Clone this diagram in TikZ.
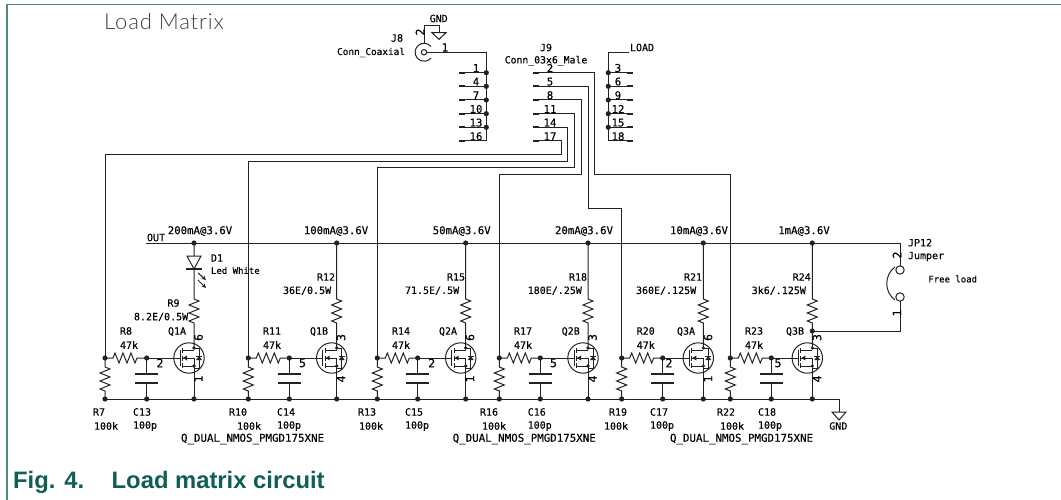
\documentclass[tikz,border=0pt]{standalone}
\usepackage{fontspec}
\setsansfont{Liberation Sans}
\newfontfamily\titlefont[LetterSpace=4]{Lato Light}
\newfontfamily\kfont[FakeBold=0.25]{DejaVu Sans Mono}
\usetikzlibrary{calc}
\definecolor{wire}{HTML}{222222}
\definecolor{figgreen}{HTML}{0F5F52}
\definecolor{framegreen}{HTML}{4E8A80}
\newcounter{lblc}
\newcommand\lbl[4][]{\stepcounter{lblc}\node[lab,#1] (t\thelblc) at (#2,#3) {#4};}
\newcommand\lw[3]{\lbl[anchor=west]{#1}{#2}{#3}}
\newcommand\zigv{-- ++(5,2) -- ++(-10,4) -- ++(10,4) -- ++(-10,4) -- ++(10,4) -- ++(-10,4) -- ++(5,2)}
\newcommand\zigh{-- ++(2,-5) -- ++(4,10) -- ++(4,-10) -- ++(4,10) -- ++(4,-10) -- ++(4,10) -- ++(2,-5)}
\newcommand\jdot[1]{\fill[wire] (#1) circle[radius=2.6pt];}
% #1 name, #2 junction x, #3 cap x, #4 drain x
\newcommand\chan[4]{%
  \coordinate (#1j) at (#2,358); \coordinate (#1jb) at (#2,399);
  \coordinate (#1c) at (#3,358); \coordinate (#1cb) at (#3,399);
  \coordinate (#1d) at (#4,348); \coordinate (#1db) at (#4,399);
  \coordinate (#1o) at (#4,243); \coordinate (#1q) at ($(#4,358)+(-5,0)$);
  \draw[wr] (#1j) -- ++(8,0) \zigh -- (#1c);
  \draw[wr] (#1j) -- ++(0,9) \zigv -- (#1jb);
  \draw[wr] (#1c) -- ++(0,16); \draw[stub] ($(#1c)+(-11.5,16)$) -- ++(23,0);
  \draw[wr] (#1cb) -- ++(0,-16); \draw[stub] ($(#1cb)+(-11.5,-16)$) -- ++(23,0);
  \draw[wr] (#1c) -- ($(#1q)+(-9,0)$);
  \draw[wr] (#1q) circle[radius=15.2pt];
  \draw[wr] ($(#1q)+(-9,-8)$) -- ($(#1q)+(-9,8)$);
  \draw[wr] ($(#1q)+(-6.5,-10)$) -- ++(0,5) ($(#1q)+(-6.5,-2.5)$) -- ++(0,5) ($(#1q)+(-6.5,5)$) -- ++(0,5);
  \draw[wr] ($(#1q)+(-6.5,-8)$) -- ++(11.5,0) ($(#1q)+(-6.5,8)$) -- ++(11.5,0) ($(#1q)+(-6.5,0)$) -- ++(11.5,0);
  \fill[wire] ($(#1q)+(-6,0)$) -- ++(4,-2.5) -- ++(0,5) -- cycle;
  \draw[wr] ($(#1q)+(5,-10)$) -- ++(5,0) -- ++(0,20) -- ++(-5,0);
  \fill[wire] ($(#1q)+(10,-2)$) -- ++(-3,4) -- ++(6,0) -- cycle;
  \draw[wr] ($(#1q)+(7,-2)$) -- ++(6,0);
  \draw[wr] ($(#1q)+(5,-10)$) -- (#1d);
  \draw[wr] ($(#1q)+(5,0)$) -- (#1db);
  \jdot{#1j}\jdot{#1jb}\jdot{#1c}\jdot{#1cb}\jdot{#1db}
  \fill[wire] ($(#1q)+(5,-10)$) circle[radius=1.8pt] ($(#1q)+(5,8)$) circle[radius=1.8pt];
}
\newcommand\rtop[1]{\draw[wr] (#1o) -- ++(0,56) \zigv -- (#1d); \jdot{#1o}}
\tikzset{
  wr/.style={draw=wire,line width=1pt},
  stub/.style={draw=wire,line width=1.7pt},
  lab/.style={font=\kfont\fontsize{10}{12}\selectfont,text=black,inner sep=0pt,outer sep=0pt},
  longlab/.style={font=\kfont\fontsize{10.8}{12}\selectfont},
  power/.style={font=\kfont\fontsize{10.7}{12}\selectfont},
  narrow/.style={font=\kfont\fontsize{9}{12}\selectfont},
  pinnum/.style={font=\kfont\fontsize{11.5}{12}\selectfont},
  rot/.style={rotate=90},
}
\begin{document}
\begin{tikzpicture}[x=1pt,y=-1pt]
\useasboundingbox (0,0) rectangle (1061,500);
% frame
\coordinate (fa) at (7,500); \coordinate (fb) at (7,4.5); \coordinate (fc) at (1061,4.5);
\draw[framegreen,line width=1.3pt] (fa) -- (fb) -- (fc);
\node[anchor=base west,inner sep=0,text=black!75,font=\titlefont\fontsize{22}{24}\selectfont] (title) at (104,30) {Load Matrix};
\node[anchor=base west,inner sep=0,text=figgreen,font=\sffamily\bfseries\fontsize{23.8}{26}\selectfont] (figno) at (13,488) {Fig. 4.};
\node[anchor=base west,inner sep=0,text=figgreen,font=\sffamily\bfseries\fontsize{23.8}{26}\selectfont] (figcap) at (111.5,488) {Load matrix circuit};
% rails
\coordinate (outl) at (146,243); \coordinate (outr) at (900,243);
\coordinate (jpa) at (900,266); \coordinate (jpb) at (900,301);
\coordinate (gl) at (105,399); \coordinate (gr) at (839,399);
\draw[wr] (outl) -- (outr) -- (jpa);
\draw[wr] (gl) -- (gr) -- ++(0,13);
\draw[wr] (832,412) -- (846,412) -- (839,420) -- cycle;
% channels
\chan{a}{105}{146.7}{194}
\chan{b}{248.3}{289.3}{336.7}
\chan{c}{377.3}{417.7}{465.7}
\chan{d}{499.3}{540.3}{588}
\chan{e}{621.7}{662.7}{703.3}
\chan{f}{730.3}{771.3}{812.3}
\rtop{b}\rtop{c}\rtop{d}\rtop{e}\rtop{f}
% D1 and R9
\jdot{ao}
\draw[wr] (ao) -- (194,256) (187,256) -- (201,256) -- (194,269) -- cycle;
\draw[stub] (186,269) -- (202,269);
\draw[wr] (194,269) -- (194,299) \zigv -- (ad);
\draw[wr,->,>=stealth] (198,273) -- (206,280);
\draw[wr,->,>=stealth] (198,280) -- (206,288);
% JP12
\coordinate (q3b) at (812.3,331);
\draw[wr] (900,270) circle[radius=4.2pt] (900,297) circle[radius=4.2pt];
\draw[wr] (895,267) .. controls (884,275) and (884,292) .. (895,300);
\draw[wr] (jpb) -- (900,331) -- (q3b);
\jdot{q3b}
% J8
\coordinate (j8c) at (424,52.3);
\draw[wr] (j8c) circle[radius=2.7pt];
\draw[wr] (431,46.5) arc[start angle=40,end angle=320,radius=9pt];
\coordinate (bus1) at (486.3,52.3); \coordinate (bus1b) at (486.3,141);
\draw[wr] (427,52.3) -- (bus1) -- (bus1b);
\draw[wr] (424,43.3) -- (424,25.7) -- (439,25.7) -- (439,32.7);
\draw[wr] (432,32.7) -- (446,32.7) -- (439,39.3) -- cycle;
\foreach \y/\t in {72.7/1,86.3/4,100/7,113.7/10,127.3/13,141/16}{
  \draw[wr] (465,\y) -- (486.3,\y);
  \draw[stub] (459,\y) -- (465,\y);
}
\foreach \y in {72.7,86.3,100,113.7,127.3}{\fill[wire] (486.3,\y) circle[radius=2.6pt];}
% LOAD connector
\coordinate (busr) at (608.3,52.3); \coordinate (busrb) at (608.3,141);
\draw[wr] (629,52.3) -- (busr) -- (busrb);
\foreach \y in {72.7,86.3,100,113.7,127.3,141}{
  \draw[wr] (608.3,\y) -- (627,\y);
  \draw[stub] (627,\y) -- (633,\y);
}
\foreach \y in {72.7,86.3,100,113.7,127.3}{\fill[wire] (608.3,\y) circle[radius=2.6pt];}
% J9 wiring
\foreach \y in {72.7,86.3,100,113.7,127.3,141}{\draw[stub] (533,\y) -- (539,\y);}
\coordinate (p2) at (539,72.7); \coordinate (p5) at (539,86.3); \coordinate (p8) at (539,100);
\coordinate (p11) at (539,113.7); \coordinate (p14) at (539,127.3); \coordinate (p17) at (539,141);
\draw[wr] (p17) -- (561,141) -- (561,154.3) -- (105,154.3) -- (aj);
\draw[wr] (p14) -- (567.7,127.3) -- (567.7,161.3) -- (248.3,161.3) -- (bj);
\draw[wr] (p11) -- (574.3,113.7) -- (574.3,168) -- (377.3,168) -- (cj);
\draw[wr] (p8) -- (581.3,100) -- (581.3,174.7) -- (499.3,174.7) -- (dj);
\draw[wr] (p5) -- (588,86.3) -- (588,208.3) -- (621.7,208.3) -- (ej);
\draw[wr] (p2) -- (594.3,72.7) -- (594.3,175) -- (730.3,175) -- (fj);
% connector labels
\lbl{438.7}{18.5}{GND}
\lbl[rot,pinnum]{420}{32}{2}
\lbl[pinnum]{445}{47.5}{1}
\lbl{397}{38}{J8}
\lbl[anchor=east,font=\kfont\fontsize{9.4}{12}\selectfont]{405}{52.5}{Conn\_Coaxial}
\lbl{546}{47.5}{J9}
\lbl[font=\kfont\fontsize{9.8}{12}\selectfont]{546}{60.8}{Conn\_03x6\_Male}
\lbl[anchor=west]{630}{47.5}{LOAD}
\foreach \y/\t in {68/1,81.6/4,95.3/7,109/10,122.6/13,136.3/16}{\lbl[power]{476}{\y}{\t}}
\foreach \y/\t in {68/2,81.6/5,95.3/8,109/11,122.6/14,136.3/17}{\lbl[power]{550}{\y}{\t}}
\foreach \y/\t in {68/3,81.6/6,95.3/9,109/12,122.6/15,136.3/18}{\lbl[power]{618}{\y}{\t}}
% power labels
\lbl[power]{200}{231}{200mA@3.6V}
\lbl[power]{336}{231}{100mA@3.6V}
\lbl[power]{461.7}{231}{50mA@3.6V}
\lbl[power]{584}{231}{20mA@3.6V}
\lbl[power]{699}{231}{10mA@3.6V}
\lbl[power]{804}{231}{1mA@3.6V}
\lw{147}{237.5}{OUT}
% D1
\lw{211}{258}{D1}
\lbl[anchor=west,narrow]{211}{270.5}{Led White}
% top resistors
\lw{167.5}{303}{R9}
\lw{134}{317}{8.2E/0.5W}
\lw{317}{277}{R12}
\lw{283}{290.7}{36E/0.5W}
\lw{447}{277}{R15}
\lw{405}{290.7}{71.5E/.5W}
\lw{569}{277}{R18}
\lw{527.7}{290.7}{180E/.25W}
\lw{684}{277}{R21}
\lw{636}{290.7}{360E/.125W}
\lw{792.7}{277}{R24}
\lw{751.7}{290.7}{3k6/.125W}
% gate resistors
\lw{120}{331}{R8}\lw{120}{345}{47k}
\lw{263}{331}{R11}\lw{263}{345}{47k}
\lw{392}{331}{R14}\lw{392}{345}{47k}
\lw{514}{331}{R17}\lw{514}{345}{47k}
\lw{636.7}{331}{R20}\lw{636.7}{345}{47k}
\lw{745}{331}{R23}\lw{745}{345}{47k}
% transistors
\lw{168}{331.6}{Q1A}\lw{310}{331.6}{Q1B}\lw{439}{331.6}{Q2A}
\lw{561.7}{331.6}{Q2B}\lw{677}{331.6}{Q3A}\lw{786}{331.6}{Q3B}
\lbl[pinnum]{160}{363}{2}\lbl[pinnum]{302.5}{363}{5}\lbl[pinnum]{431.7}{363}{2}\lbl[pinnum]{553.5}{363}{5}\lbl[pinnum]{669}{363}{2}\lbl[pinnum]{778}{363}{5}
\foreach \x/\u/\v in {198.5/6/1,341/3/4,470/6/1,592.5/3/4,708/6/1,817/3/4}{
  \lbl[rot,pinnum]{\x}{337.5}{\u}
  \lbl[rot,pinnum]{\x}{379}{\v}
}
% bottom labels
\lw{93}{412}{R7}\lw{94}{426}{100k}
\lw{133}{412}{C13}\lw{133}{426}{100p}
\lw{229}{412}{R10}\lw{237}{426}{100k}
\lw{277}{412}{C14}\lw{277}{426}{100p}
\lw{358}{412}{R13}\lw{359}{426}{100k}
\lw{405}{412}{C15}\lw{405}{426}{100p}
\lw{480}{412}{R16}\lw{482}{426}{100k}
\lw{527.7}{412}{C16}\lw{527.7}{426}{100p}
\lw{609}{412}{R19}\lw{604}{426}{100k}
\lw{650}{412}{C17}\lw{650}{426}{100p}
\lw{717}{412}{R22}\lw{720}{426}{100k}
\lw{758}{412}{C18}\lw{758}{426}{100p}
\lw{829.3}{426}{GND}
\lbl[anchor=west,longlab]{181}{439}{Q\_DUAL\_NMOS\_PMGD175XNE}
\lbl[anchor=west,longlab]{452.7}{439}{Q\_DUAL\_NMOS\_PMGD175XNE}
\lbl[anchor=west,longlab]{670}{439}{Q\_DUAL\_NMOS\_PMGD175XNE}
% JP12
\lw{908}{242.7}{JP12}
\lw{908}{256.5}{Jumper}
\lbl[anchor=west,narrow]{928.3}{279}{Free load}
\lbl[rot,pinnum]{897}{255}{2}
\lbl[rot,pinnum]{897}{313}{1}
\end{tikzpicture}
\end{document}
